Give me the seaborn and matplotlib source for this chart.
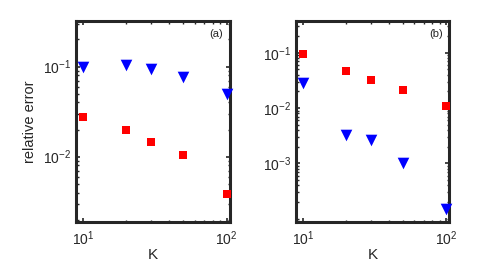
import numpy as np
import pandas as pd
import matplotlib
matplotlib.use("Agg")
import matplotlib.pyplot as plt
import seaborn as sns
from matplotlib.ticker import LogLocator, FixedLocator, NullFormatter

# ---- data ----
K = [10, 20, 30, 50, 100]
a_triangle = [0.100, 0.105, 0.095, 0.0775, 0.0494]
a_square = [0.0274, 0.0199, 0.0146, 0.0104, 0.0039]
b_square = [0.096, 0.047, 0.0324, 0.0216, 0.0109]
b_triangle = [0.0283, 0.0033, 0.0026, 0.00102, 0.00015]
panel_labels = ["(a)", "(b)"]
xlabel = "K"
ylabel = "relative error"

sns.set_theme(style="white")
plt.rcParams['font.family'] = ['Liberation Sans', 'DejaVu Sans']
plt.rcParams['mathtext.fontset'] = 'custom'
plt.rcParams['mathtext.rm'] = 'Liberation Sans'
plt.rcParams['mathtext.it'] = 'Liberation Sans:italic'

fig = plt.figure(figsize=(4.98, 2.74), dpi=100)
axA = fig.add_axes([0.1532, 0.1887, 0.3086, 0.7354])
axB = fig.add_axes([0.5948, 0.1887, 0.3078, 0.7354])

edge = '#262626'

def style(ax, ylim, yt):
    ax.set_xscale('log')
    ax.set_yscale('log')
    ax.set_xlim(9.0, 105.5)
    ax.set_ylim(*ylim)
    ax.xaxis.set_major_locator(FixedLocator([10, 100]))
    ax.xaxis.set_minor_locator(LogLocator(base=10, subs=np.arange(2, 10), numticks=20))
    ax.xaxis.set_minor_formatter(NullFormatter())
    ax.yaxis.set_major_locator(FixedLocator(yt))
    ax.yaxis.set_minor_locator(LogLocator(base=10, subs=np.arange(1, 10), numticks=20))
    ax.yaxis.set_minor_formatter(NullFormatter())
    for s in ax.spines.values():
        s.set_linewidth(2.2)
        s.set_color(edge)
        s.set_visible(True)
    ax.tick_params(which='both', direction='in', top=True, right=True,
                   bottom=True, left=True, color=edge, labelcolor=edge,
                   labelsize=10)
    ax.tick_params(which='major', length=3, width=1.2)
    ax.tick_params(axis='x', which='major', pad=5)
    ax.tick_params(axis='y', which='major', pad=4)
    ax.tick_params(which='minor', length=1.8, width=1.0)
    ax.set_xlabel(xlabel, fontsize=11, color=edge, labelpad=0)

def draw(ax, k, y, marker, color, s):
    df = pd.DataFrame({"K": k, "err": y})
    sns.scatterplot(data=df, x="K", y="err", marker=marker, color=color,
                    s=s, linewidth=0, ax=ax, clip_on=False, zorder=5)

draw(axA, K, a_triangle, 'v', '#0000ff', 70)
draw(axA, K, a_square, 's', '#ff0000', 38)
draw(axB, K, b_square, 's', '#ff0000', 38)
draw(axB, K, b_triangle, 'v', '#0000ff', 70)

style(axA, (0.00187, 0.322), [1e-2, 1e-1])
style(axB, (8.6e-5, 0.378), [1e-3, 1e-2, 1e-1])
axA.set_ylabel(ylabel, fontsize=10.5, color=edge, labelpad=4)
axB.set_ylabel("")

for ax, lab in zip([axA, axB], panel_labels):
    ax.text(0.955, 0.935, lab, transform=ax.transAxes, ha='right', va='center',
            fontsize=8, color=edge)

fig.savefig("out.png", dpi=100)
